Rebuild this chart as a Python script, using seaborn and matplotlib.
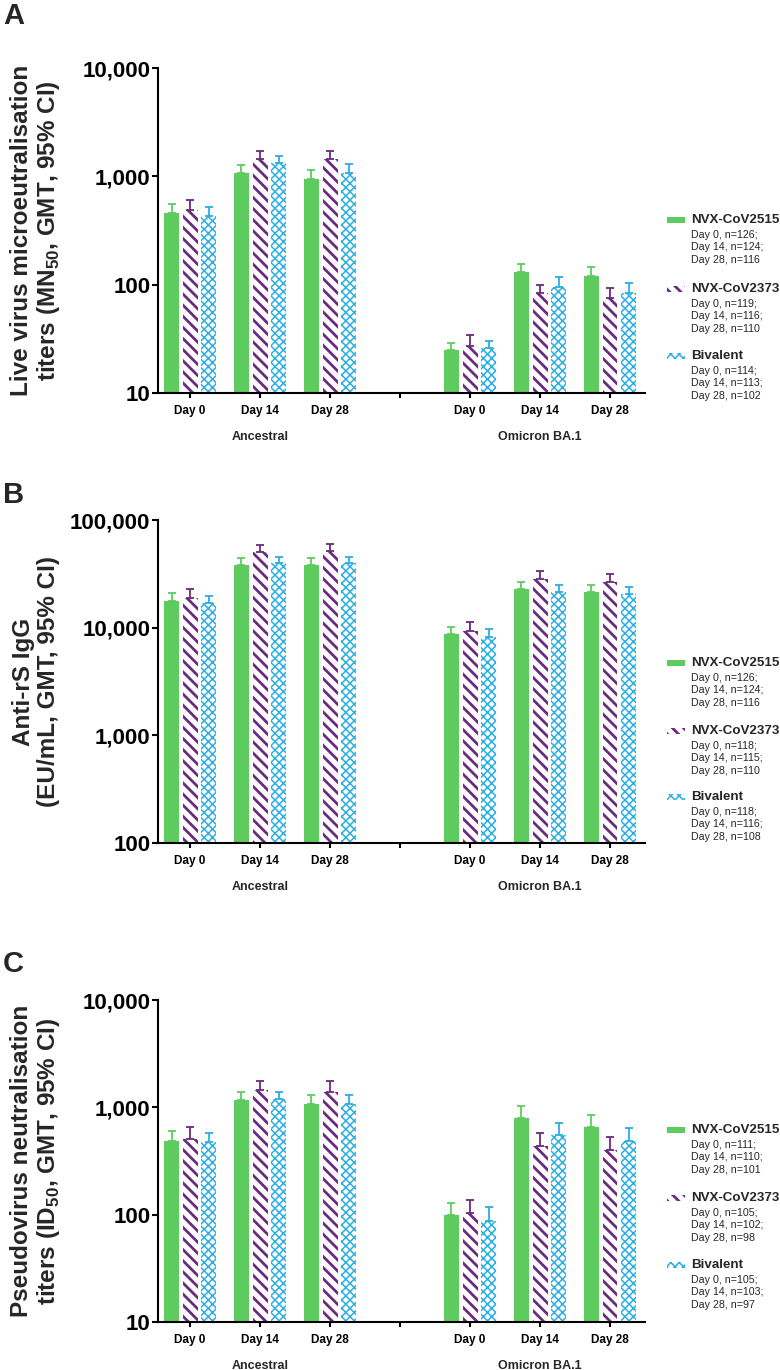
import numpy as np
import pandas as pd
import matplotlib
matplotlib.use("Agg")
import matplotlib.pyplot as plt
from matplotlib.patches import Rectangle
from matplotlib.ticker import NullLocator
import seaborn as sns

sns.set_style("ticks")
plt.rcParams['font.family'] = ['Liberation Sans', 'DejaVu Sans']
plt.rcParams['mathtext.fontset'] = 'custom'
plt.rcParams['mathtext.bf'] = 'Liberation Sans:bold'
plt.rcParams['mathtext.rm'] = 'Liberation Sans'
plt.rcParams['hatch.linewidth'] = 2.0

# categories
slots = ['A0', 'A14', 'A28', 'gap', 'O0', 'O14', 'O28']
data_slots = ['A0', 'A14', 'A28', 'O0', 'O14', 'O28']
day_labels = ['Day 0', 'Day 14', 'Day 28', '', 'Day 0', 'Day 14', 'Day 28']
variants = ['Ancestral', 'Omicron BA.1']
vaccines = ['NVX-CoV2515', 'NVX-CoV2373', 'Bivalent']
colors = ['#5ecb5f', '#6a2a80', '#2aaee4']
hatches = [None, '\\\\\\', 'xxxx']
hatch_lw = [0, 2.0, 1.1]

# A: live virus MN50 (GMT, upper 95% CI), order Anc D0,D14,D28, BA.1 D0,D14,D28
mn50_gmt = [[455, 1065, 940, 25, 130, 120],
            [485, 1435, 1435, 27, 83, 76],
            [426, 1320, 1080, 26, 96, 84]]
mn50_up = [[550, 1264, 1136, 29, 156, 147],
           [600, 1700, 1700, 34, 100, 94],
           [517, 1530, 1300, 30, 117, 104]]

# B: anti-rS IgG EU/mL
igg_gmt = [[17800, 38200, 38500, 8700, 22900, 21500],
           [18900, 50400, 51500, 9300, 28300, 26500],
           [17000, 40000, 40000, 8200, 21500, 20600]]
igg_up = [[21000, 44000, 44000, 10100, 26500, 24900],
          [22900, 58600, 60000, 11300, 33600, 31500],
          [19700, 45000, 45500, 9800, 24900, 24000]]

# C: pseudovirus ID50
id50_gmt = [[490, 1180, 1080, 100, 800, 650],
            [510, 1450, 1400, 103, 440, 400],
            [480, 1200, 1080, 88, 550, 490]]
id50_up = [[600, 1400, 1300, 128, 1020, 850],
           [650, 1750, 1750, 138, 580, 530],
           [580, 1400, 1300, 118, 720, 640]]

n_A = [[126, 124, 116], [119, 116, 110], [114, 113, 102]]
n_B = [[126, 124, 116], [118, 115, 110], [118, 116, 108]]
n_C = [[111, 110, 101], [105, 102, 98], [105, 103, 97]]

panels = [
    dict(letter='A', gmt=mn50_gmt, up=mn50_up, n=n_A, ylim=(10, 10000),
         ylabel='Live virus microeutralisation\ntiters (MN$_{\\mathbf{50}}$, GMT, 95% CI)',
         box=(68, 393), leg=(220, 289, 356), lety=16),
    dict(letter='B', gmt=igg_gmt, up=igg_up, n=n_B, ylim=(100, 100000),
         ylabel='Anti-rS IgG\n(EU/mL, GMT, 95% CI)',
         box=(520, 843), leg=(663, 731, 797), lety=495),
    dict(letter='C', gmt=id50_gmt, up=id50_up, n=n_C, ylim=(10, 10000),
         ylabel='Pseudovirus neutralisation\ntiters (ID$_{\\mathbf{50}}$, GMT, 95% CI)',
         box=(1000, 1322), leg=(1130, 1198, 1265), lety=964),
]

W, H = 780, 1370
fig = plt.figure(figsize=(W / 100, H / 100), dpi=100)


def fx(px):
    return px / W


def fy(py):
    return 1 - py / H


def style_patch(patch, vi):
    patch.set_linewidth(0)
    if vi == 0:
        patch.set_facecolor(colors[0])
        patch.set_edgecolor(colors[0])
    else:
        patch.set_facecolor('white')
        patch.set_edgecolor(colors[vi])
        patch.set_hatch(hatches[vi])
        if hasattr(patch, 'set_hatch_linewidth'):
            patch.set_hatch_linewidth(hatch_lw[vi])


for p in panels:
    top, bot = p['box']
    ax = fig.add_axes([fx(158), fy(bot), fx(487), (bot - top) / H])
    ax.set_yscale('log')
    rows = []
    for vi, v in enumerate(vaccines):
        for si, s in enumerate(data_slots):
            rows.append({'slot': s, 'vaccine': v, 'gmt': p['gmt'][vi][si]})
    df = pd.DataFrame(rows)
    sns.barplot(data=df, x='slot', y='gmt', hue='vaccine', order=slots,
                hue_order=vaccines, palette=colors, errorbar=None,
                width=0.8, gap=0.2, legend=False, ax=ax)

    bar_conts = list(ax.containers)
    for vi, cont in enumerate(bar_conts):
        bars = sorted(cont.patches, key=lambda b: b.get_x())
        for b in bars:
            style_patch(b, vi)
        xs = np.array([b.get_x() + b.get_width() / 2 for b in bars])
        g = np.array(p['gmt'][vi], dtype=float)
        u = np.array(p['up'][vi], dtype=float)
        ax.errorbar(xs, g, yerr=[np.zeros_like(g), u - g], fmt='none',
                    ecolor=colors[vi], elinewidth=1.3, capsize=3, capthick=1.3)

    ax.set_xlim(-0.46, 6.5)
    ax.set_ylim(*p['ylim'])
    lo, hi = p['ylim']
    yt = [lo * 10 ** k for k in range(4)]
    ax.set_yticks(yt)
    ax.set_yticklabels([f'{int(t):,}' for t in yt], fontsize=16, fontweight='bold')
    ax.yaxis.set_minor_locator(NullLocator())
    ax.set_xticks(range(7))
    ax.set_xticklabels(day_labels, fontsize=8.5, fontweight='bold')
    ax.set_xlabel('')
    ax.set_ylabel('')
    for side in ['top', 'right']:
        ax.spines[side].set_visible(False)
    for side in ['left', 'bottom']:
        ax.spines[side].set_linewidth(1.5)
        ax.spines[side].set_color('black')
    ax.tick_params(axis='y', length=4.5, width=1.5, pad=1, colors='black')
    ax.tick_params(axis='x', length=3.5, width=1.5, pad=5, colors='black')

    ax.text(-0.2505, 0.5, p['ylabel'], transform=ax.transAxes, rotation=90,
            ha='center', va='center', fontsize=17.5, fontweight='bold',
            linespacing=1.1, multialignment='center')
    for gi, gname in enumerate(variants):
        ax.annotate(gname, xy=(1 + 4 * gi, 0), xycoords=('data', 'axes fraction'),
                    xytext=(0, -32), textcoords='offset points',
                    ha='center', va='center', fontsize=9, fontweight='bold')

    fig.text(fx(3), fy(p['lety']), p['letter'], fontsize=21, fontweight='bold',
             ha='left', va='center')

    # legend
    for vi, v in enumerate(vaccines):
        yy = p['leg'][vi]
        r = Rectangle((fx(667), fy(yy + 3)), fx(18), 6 / H, transform=fig.transFigure)
        style_patch(r, vi)
        fig.patches.append(r)
        fig.text(fx(691), fy(yy), v, fontsize=9.6, fontweight='bold', ha='left', va='center')
        nn = p['n'][vi]
        sub = f'Day 0, n={nn[0]};\nDay 14, n={nn[1]};\nDay 28, n={nn[2]}'
        fig.text(fx(691), fy(yy + 10), sub, fontsize=7.7, ha='left', va='top', linespacing=1.3)

fig.savefig('out.png', dpi=100)
